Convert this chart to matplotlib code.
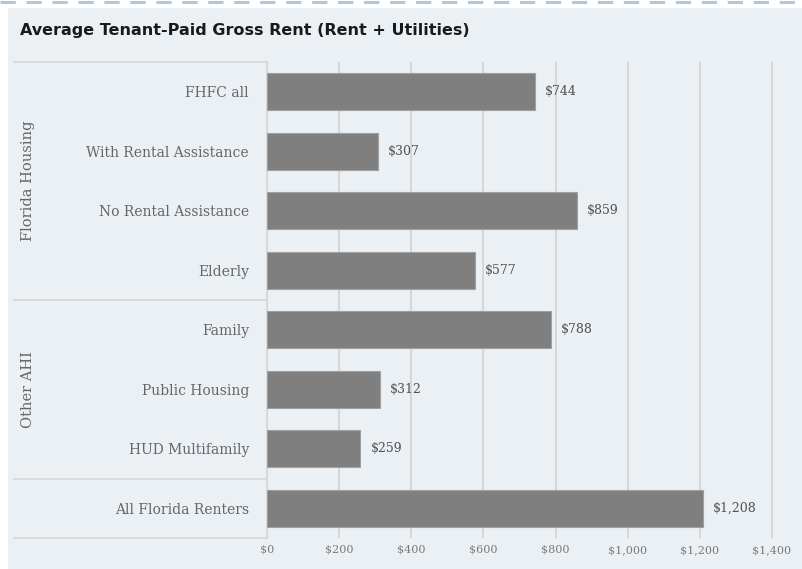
import matplotlib
matplotlib.use("Agg")
import matplotlib.pyplot as plt
from matplotlib.patches import Rectangle
import matplotlib.transforms as mtransforms

categories = ["FHFC all", "With Rental Assistance", "No Rental Assistance", "Elderly",
              "Family", "Public Housing", "HUD Multifamily", "All Florida Renters"]
values = [744, 307, 859, 577, 788, 312, 259, 1208]
value_labels = ["$744", "$307", "$859", "$577", "$788", "$312", "$259", "$1,208"]
groups = [("Florida Housing", 0, 3), ("Other AHI", 4, 6)]
xticks = [0, 200, 400, 600, 800, 1000, 1200, 1400]
xtick_labels = ["$0", "$200", "$400", "$600", "$800", "$1,000", "$1,200", "$1,400"]
title = "Average Tenant-Paid Gross Rent (Rent + Utilities)"

W, H = 802, 569
fig = plt.figure(figsize=(W / 100, H / 100), dpi=100, facecolor="white")

# panel background
fig.patches.append(Rectangle((8 / W, 0), 1 - 8 / W, (H - 8) / H, transform=fig.transFigure,
                             facecolor="#ebf0f5", edgecolor="none", zorder=-10))
# dashed top border
fig.add_artist(plt.Line2D([0, 1], [1 - 1.5 / H, 1 - 1.5 / H], transform=fig.transFigure,
                          color="#b3c7db", lw=2.2, ls=(0, (5, 3.5))))

left_px, right_px, top_px, bot_px = 267, 790, 62, 538
ax = fig.add_axes([left_px / W, (H - bot_px) / H, (right_px - left_px) / W, (bot_px - top_px) / H])
ax.set_facecolor("none")

y = list(range(len(categories)))
ax.barh(y, values, height=0.62, color="#7f7f7f", edgecolor="#a0a0a0", linewidth=0.8, zorder=3)
ax.set_ylim(len(categories) - 0.5, -0.5)
ax.set_xlim(0, 1450)

for yi, v, lab in zip(y, values, value_labels):
    ax.annotate(lab, (v, yi), xytext=(10, 0), textcoords="offset pixels",
                va="center", ha="left", fontsize=9, family="DejaVu Serif", color="#505050")

ax.set_xticks(xticks)
ax.set_xticklabels(xtick_labels, fontsize=8, family="DejaVu Serif", color="#7a7a7a")
ax.set_yticks(y)
ax.set_yticklabels(categories, fontsize=10, family="DejaVu Serif", color="#666666")
ax.tick_params(axis="both", length=0)
ax.tick_params(axis="y", pad=13)
ax.tick_params(axis="x", pad=5)
ax.xaxis.grid(True, color="#d6d6d6", lw=1.4, zorder=0)
ax.set_axisbelow(True)
for s in ["top", "right", "bottom"]:
    ax.spines[s].set_visible(False)
ax.spines["left"].set_color("#d6d6d6")
ax.spines["left"].set_linewidth(1.2)

# table lines on the left
trans = mtransforms.blended_transform_factory(ax.transAxes, ax.transData)
x0 = (14 - left_px) / (right_px - left_px)
for yl in [-0.5, 3.5, 6.5, 7.5]:
    ax.plot([x0, 0], [yl, yl], transform=trans, color="#d6d6d6", lw=1.2, clip_on=False)

# group labels
xg = (28 - left_px) / (right_px - left_px)
for name, a, b in groups:
    ax.text(xg, (a + b) / 2, name, transform=trans, rotation=90, ha="center", va="center",
            fontsize=10.5, family="DejaVu Serif", color="#666666")

fig.text(20 / W, 1 - 31 / H, title, fontsize=11.5, fontweight="bold", color="#1a1a1a",
         ha="left", va="center", family="DejaVu Sans")

fig.savefig("out.png", dpi=100, facecolor="white")
